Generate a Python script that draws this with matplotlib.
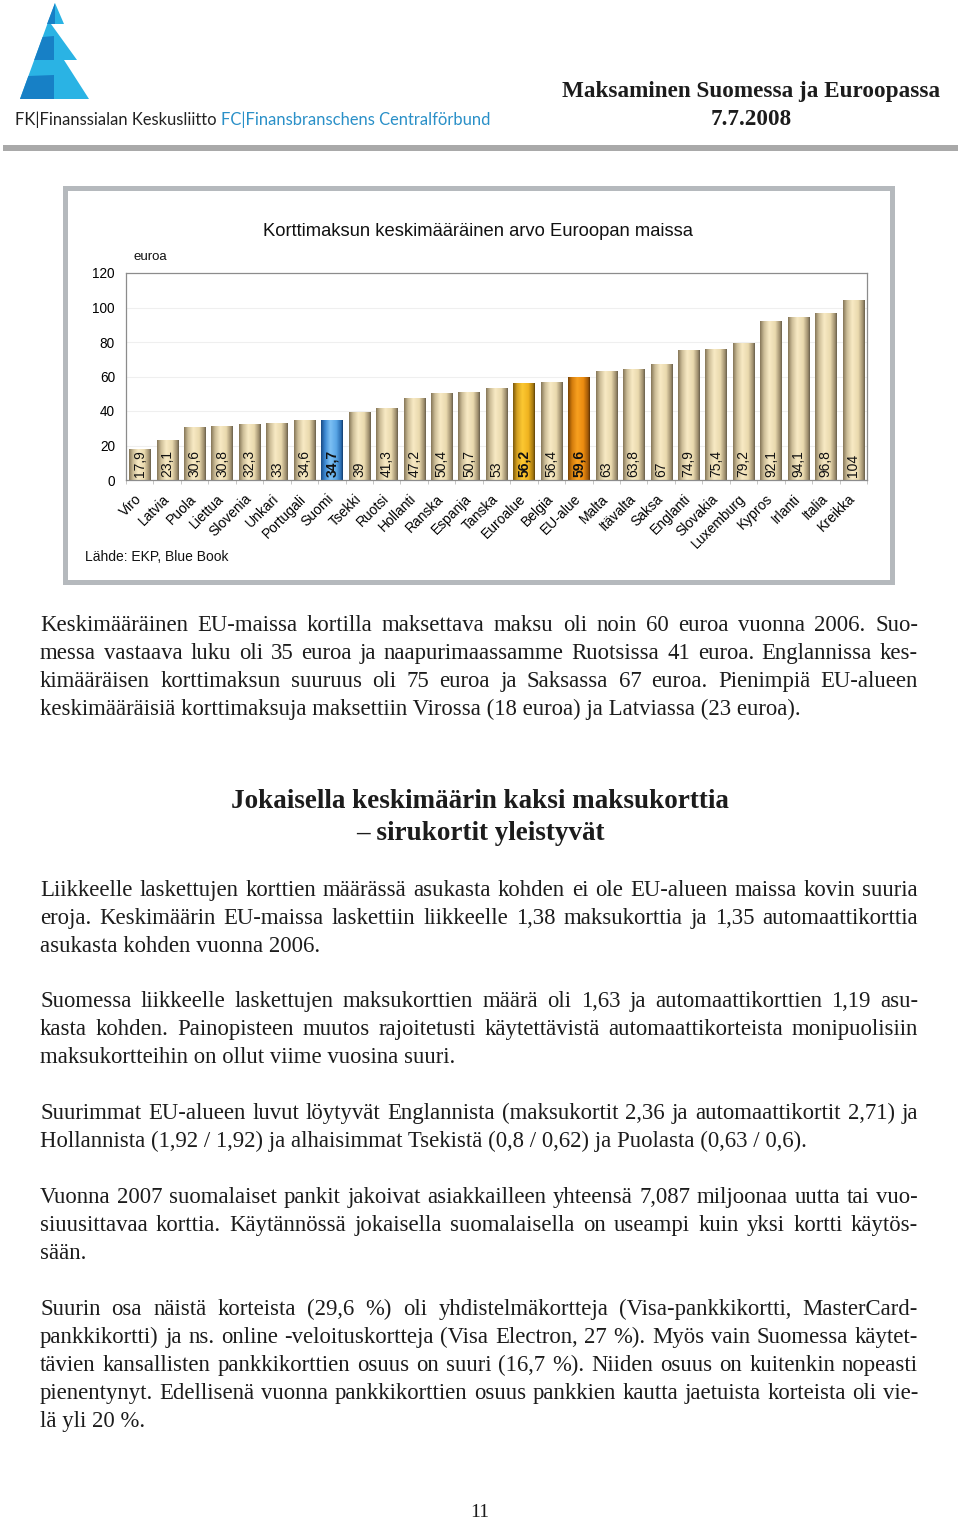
import numpy as np
import matplotlib.pyplot as plt
from matplotlib.colors import LinearSegmentedColormap
from matplotlib.patches import Rectangle, Polygon

# kaavion tiedot
maat = ['Viro', 'Latvia', 'Puola', 'Liettua', 'Slovenia', 'Unkari', 'Portugali',
        'Suomi', 'Tsekki', 'Ruotsi', 'Hollanti', 'Ranska', 'Espanja', 'Tanska',
        'Euroalue', 'Belgia', 'EU-alue', 'Malta', 'Itävalta', 'Saksa', 'Englanti',
        'Slovakia', 'Luxemburg', 'Kypros', 'Irlanti', 'Italia', 'Kreikka']
arvot = [17.9, 23.1, 30.6, 30.8, 32.3, 33, 34.6, 34.7, 39, 41.3, 47.2, 50.4, 50.7,
         53, 56.2, 56.4, 59.6, 63, 63.8, 67, 74.9, 75.4, 79.2, 92.1, 94.1, 96.8, 104]
korostetut = {'Suomi': 'sininen', 'Euroalue': 'keltainen', 'EU-alue': 'oranssi'}
y_tikit = [0, 20, 40, 60, 80, 100, 120]

# leipäteksti, rivit kuten alkuperäisessä
kappaleet = [
    (631, ["Keskimääräinen EU-maissa kortilla maksettava maksu oli noin 60 euroa vuonna 2006. Suo-",
           "messa vastaava luku oli 35 euroa ja naapurimaassamme Ruotsissa 41 euroa. Englannissa kes-",
           "kimääräisen korttimaksun suuruus oli 75 euroa ja Saksassa 67 euroa. Pienimpiä EU-alueen",
           "keskimääräisiä korttimaksuja maksettiin Virossa (18 euroa) ja Latviassa (23 euroa)."]),
    (896, ["Liikkeelle laskettujen korttien määrässä asukasta kohden ei ole EU-alueen maissa kovin suuria",
           "eroja. Keskimäärin EU-maissa laskettiin liikkeelle 1,38 maksukorttia ja 1,35 automaattikorttia",
           "asukasta kohden vuonna 2006."]),
    (1007, ["Suomessa liikkeelle laskettujen maksukorttien määrä oli 1,63 ja automaattikorttien 1,19 asu-",
            "kasta kohden.  Painopisteen muutos rajoitetusti käytettävistä automaattikorteista monipuolisiin",
            "maksukortteihin on ollut viime vuosina suuri."]),
    (1119, ["Suurimmat EU-alueen luvut löytyvät Englannista (maksukortit 2,36 ja automaattikortit 2,71) ja",
            "Hollannista (1,92 / 1,92) ja alhaisimmat Tsekistä (0,8 / 0,62) ja Puolasta (0,63 / 0,6)."]),
    (1203, ["Vuonna 2007 suomalaiset pankit jakoivat asiakkailleen yhteensä 7,087 miljoonaa uutta tai vuo-",
            "siuusittavaa korttia. Käytännössä jokaisella suomalaisella on useampi kuin yksi kortti käytös-",
            "sään."]),
    (1315, ["Suurin osa näistä korteista (29,6 %) oli yhdistelmäkortteja (Visa-pankkikortti, MasterCard-",
            "pankkikortti) ja ns. online -veloituskortteja (Visa Electron, 27 %). Myös vain Suomessa käytet-",
            "tävien kansallisten pankkikorttien osuus on suuri (16,7 %). Niiden osuus on kuitenkin nopeasti",
            "pienentynyt. Edellisenä vuonna pankkikorttien osuus pankkien kautta jaetuista korteista oli vie-",
            "lä yli 20 %."]),
]

W, H = 960, 1522
fig = plt.figure(figsize=(W / 100, H / 100), dpi=100)
fig.patch.set_facecolor('white')

# koko sivun akselit pikselikoordinaateissa
sivu = fig.add_axes([0, 0, 1, 1])
sivu.set_xlim(0, W)
sivu.set_ylim(H, 0)
sivu.axis('off')

serif = 'Liberation Serif'
sans = 'Liberation Sans'
musta = '#1c1c1c'

# --- logo: kolme porrasta, vasen reuna suora ---
vaalea = '#2ab3e4'
tumma = '#1780c6'
def xl(y):
    return 55 - (y - 3) * 35 / 96
portaat = [(3, 24, 55, 64), (24, 60, 51, 77), (60, 99, 64, 89)]
for y0, y1, r0, r1 in portaat:
    sivu.add_patch(Polygon([(xl(y0), y0), (r0, y0), (r1, y1), (xl(y1), y1)],
                           closed=True, fc=vaalea, ec='none'))
# tummemmat raidat vasemmalla
sivu.add_patch(Polygon([(55, 3), (55, 24), (xl(24), 24)], closed=True, fc=tumma, ec='none'))
sivu.add_patch(Polygon([(xl(37), 37), (54, 36), (54, 60), (xl(60), 60)], closed=True,
                       fc=tumma, ec='none'))
sivu.add_patch(Polygon([(xl(76), 76), (54, 75), (54, 99), (xl(99), 99)], closed=True,
                       fc=tumma, ec='none'))

t1 = sivu.text(15, 125, 'FK|Finanssialan Keskusliitto ', fontsize=11.9, family='Lato',
               color='#222222', va='baseline', ha='left')
fig.canvas.draw()
r = fig.canvas.get_renderer()
bb = t1.get_window_extent(r)
sivu.text(15 + bb.width, 125, 'FC|Finansbranschens Centralförbund', fontsize=11.9,
          family='Lato', color='#2a90c8', va='baseline', ha='left')

sivu.text(751, 97, 'Maksaminen Suomessa ja Euroopassa', fontsize=16.7, family=serif,
          weight='bold', color=musta, ha='center', va='baseline')
sivu.text(751, 125, '7.7.2008', fontsize=16.7, family=serif, weight='bold',
          color=musta, ha='center', va='baseline')
sivu.add_patch(Rectangle((3, 145), 955, 6, fc='#a9a9a9', ec='none'))

# --- kaavion kehys ---
sivu.add_patch(Rectangle((65, 188), 827, 394, fc='white', ec='#b5b9bd', lw=3.6))
sivu.text(478, 236, 'Korttimaksun keskimääräinen arvo Euroopan maissa', fontsize=13.2,
          family=sans, color='#111111', ha='center', va='baseline')
sivu.text(133, 260, 'euroa', fontsize=9.5, family=sans, color='#111111', ha='left', va='baseline')
sivu.text(85, 561, 'Lähde: EKP, Blue Book', fontsize=10, family=sans, color='#111111',
          ha='left', va='baseline')

# --- pylväskaavio ---
ax = fig.add_axes([126 / W, 1 - 480 / H, (867 - 126) / W, (480 - 273) / H])
ax.set_facecolor('white')
x = np.arange(len(maat))
leveys = 0.77

liukuvarit = {
    'tavallinen': ['#867759', '#cdbe98', '#f8eac4', '#e9d9ae', '#9c8d6c', '#6a604c'],
    'sininen': ['#1a4c86', '#3c88d2', '#7cc0f4', '#5aa6e6', '#2a6cb0', '#143c6c'],
    'keltainen': ['#7c5a0c', '#d4a020', '#fcc832', '#f0b420', '#a47810', '#604408'],
    'oranssi': ['#7a4404', '#d47c0c', '#f8a020', '#ec8c10', '#a05808', '#5c3204'],
}
for xi, v, nimi in zip(x, arvot, maat):
    tyyli = korostetut.get(nimi, 'tavallinen')
    cmap = LinearSegmentedColormap.from_list(tyyli, list(zip([0, 0.18, 0.42, 0.7, 0.92, 1.0],
                                                            liukuvarit[tyyli])))
    grad = np.linspace(0, 1, 64).reshape(1, -1)
    ax.imshow(grad, cmap=cmap, aspect='auto', extent=[xi - leveys / 2, xi + leveys / 2, 0, v],
              zorder=2, interpolation='bilinear')
    lihava = nimi in korostetut
    ax.text(xi, 1.6, f'{v:g}'.replace('.', ','), rotation=90, ha='center', va='bottom',
            fontsize=10, family=sans, color='#111111', weight='bold' if lihava else 'normal',
            zorder=3)

ax.set_xlim(-0.5, len(maat) - 0.5)
ax.set_ylim(0, 120)
ax.set_yticks(y_tikit)
ax.set_yticklabels([str(t) for t in y_tikit], fontsize=9.8, family=sans)
ax.tick_params(axis='y', length=0, pad=8)
ax.set_xticks(x)
ax.set_xticklabels(maat, rotation=45, ha='right', va='center', rotation_mode='anchor',
                   fontsize=10, family=sans)
ax.tick_params(axis='x', length=0, pad=12)
ax.set_xticks(np.arange(len(maat) + 1) - 0.5, minor=True)
ax.tick_params(axis='x', which='minor', length=3, color='#bbbbbb', direction='out')
for t in y_tikit[1:-1]:
    ax.axhline(t, color='#efefef', lw=0.8, zorder=1)
for s in ax.spines.values():
    s.set_color('#8c8c8c')
    s.set_linewidth(0.9)

# --- otsikko ---
sivu.text(480, 808, 'Jokaisella keskimäärin kaksi maksukorttia', fontsize=19.5, family=serif,
          weight='bold', color=musta, ha='center', va='baseline')
sivu.text(480, 840, '– sirukortit yleistyvät', fontsize=19.5, family=serif, weight='bold',
          color=musta, ha='center', va='baseline')

# --- tasattu leipäteksti ---
vasen, oikea = 40, 918
koko = 16.4
fig.canvas.draw()
r = fig.canvas.get_renderer()
for y0, rivit in kappaleet:
    for i, rivi in enumerate(rivit):
        y = y0 + 28 * i
        viimeinen = i == len(rivit) - 1
        if viimeinen:
            sivu.text(vasen, y, rivi, fontsize=koko, family=serif, color=musta,
                      ha='left', va='baseline')
            continue
        sanat = rivi.split()
        tekstit = [sivu.text(0, y, s, fontsize=koko, family=serif, color=musta,
                             ha='left', va='baseline') for s in sanat]
        lev = [t.get_window_extent(r).width for t in tekstit]
        vali = (oikea - vasen - sum(lev)) / (len(sanat) - 1)
        kohta = vasen
        for t, w in zip(tekstit, lev):
            t.set_x(kohta)
            kohta += w + vali

sivu.text(480, 1517, '11', fontsize=14, family=serif, color=musta, ha='center',
          va='baseline')

fig.savefig('out.png', dpi=100, facecolor='white')
